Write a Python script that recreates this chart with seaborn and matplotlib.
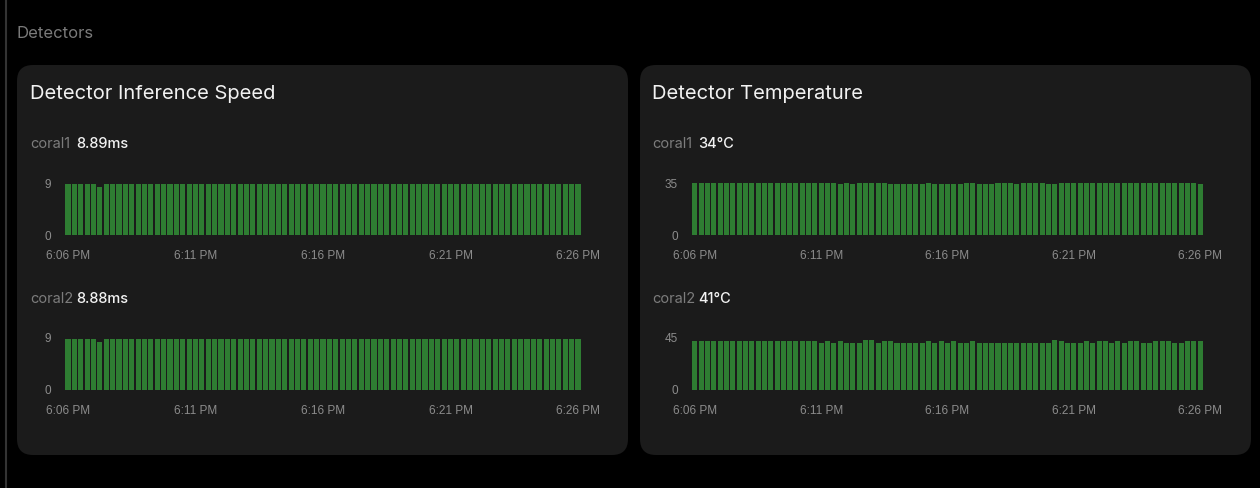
import matplotlib
matplotlib.use("Agg")
import matplotlib.pyplot as plt
from matplotlib.patches import FancyBboxPatch
from matplotlib.transforms import IdentityTransform
from matplotlib.lines import Line2D
import seaborn as sns
import pandas as pd

# ---------------- data ----------------
time_labels = ["6:06 PM", "6:11 PM", "6:16 PM", "6:21 PM", "6:26 PM"]
tick_positions = [0, 20, 40, 60, 80]

speed_coral1 = [
    8.86, 8.86, 8.86, 8.86, 8.86, 8.30, 8.90, 8.90, 8.90, 8.90,
    8.90, 8.90, 8.90, 8.90, 8.90, 8.90, 8.90, 8.90, 8.90, 8.90,
    8.90, 8.90, 8.90, 8.90, 8.90, 8.90, 8.90, 8.90, 8.90, 8.90,
    8.90, 8.90, 8.90, 8.90, 8.90, 8.90, 8.90, 8.90, 8.90, 8.90,
    8.90, 8.90, 8.90, 8.90, 8.90, 8.90, 8.90, 8.90, 8.90, 8.90,
    8.90, 8.90, 8.90, 8.90, 8.90, 8.90, 8.90, 8.90, 8.90, 8.90,
    8.90, 8.90, 8.90, 8.90, 8.90, 8.90, 8.90, 8.90, 8.90, 8.90,
    8.90, 8.90, 8.90, 8.90, 8.90, 8.90, 8.90, 8.90, 8.90, 8.90,
    8.89,
]
speed_coral2 = [
    8.88, 8.88, 8.88, 8.88, 8.88, 8.25, 8.88, 8.88, 8.88, 8.88,
    8.88, 8.88, 8.88, 8.88, 8.88, 8.88, 8.88, 8.88, 8.88, 8.88,
    8.88, 8.88, 8.88, 8.88, 8.88, 8.88, 8.88, 8.88, 8.88, 8.88,
    8.88, 8.88, 8.88, 8.88, 8.88, 8.88, 8.88, 8.88, 8.88, 8.88,
    8.88, 8.88, 8.88, 8.88, 8.88, 8.88, 8.88, 8.88, 8.88, 8.88,
    8.88, 8.88, 8.88, 8.88, 8.88, 8.88, 8.88, 8.88, 8.88, 8.88,
    8.88, 8.88, 8.88, 8.88, 8.88, 8.88, 8.88, 8.88, 8.88, 8.88,
    8.88, 8.88, 8.88, 8.88, 8.88, 8.88, 8.88, 8.88, 8.88, 8.88,
    8.88,
]
temp_coral1 = [
    35, 35, 35, 35, 35, 35, 35, 35, 35, 35,
    35, 35, 35, 35, 35, 35, 35, 35, 35, 35,
    35, 35, 35, 34, 35, 34, 35, 35, 35, 35,
    35, 34, 34, 34, 34, 34, 34, 35, 34, 34,
    34, 34, 34, 35, 35, 34, 34, 34, 35, 35,
    35, 34, 35, 35, 35, 35, 34, 34, 35, 35,
    35, 35, 35, 35, 35, 35, 35, 35, 35, 35,
    35, 35, 35, 35, 35, 35, 35, 35, 35, 35,
    34,
]
temp_coral2 = [
    42, 42, 42, 42, 42, 42, 42, 42, 42, 42,
    42, 42, 42, 42, 42, 42, 42, 42, 42, 42,
    41, 42, 41, 42, 41, 41, 41, 43, 43, 41,
    42, 42, 41, 41, 41, 41, 41, 42, 41, 42,
    41, 42, 41, 41, 42, 41, 41, 41, 41, 41,
    41, 41, 41, 41, 41, 41, 41, 43, 42, 41,
    41, 41, 42, 41, 42, 42, 41, 42, 41, 42,
    42, 41, 41, 42, 42, 42, 41, 41, 42, 42,
    42,
]

panels = [
    (64.8, 581.2, 30, "Detector Inference Speed",
     [("coral1", "8.89ms", speed_coral1, 9), ("coral2", "8.88ms", speed_coral2, 9)]),
    (691.8, 1203.2, 652, "Detector Temperature",
     [("coral1", "34°C", temp_coral1, 35), ("coral2", "41°C", temp_coral2, 45)]),
]

# ---------------- style ----------------
W, H = 1260, 488
sns.set_theme(style="dark")
plt.rcParams["font.family"] = ["Inter", "DejaVu Sans"]

BG = "#000000"
CARD = "#1b1b1b"
BAR = "#2e7d32"
TICK = "#8c8c8c"
LABEL_GRAY = "#7c7c7c"
WHITE = "#f2f2f2"

fig = plt.figure(figsize=(W / 100, H / 100), dpi=100, facecolor=BG)

fig.add_artist(Line2D([6, 6], [0, H], transform=IdentityTransform(), color="#333333", lw=1.5, zorder=-2))

for x0 in (17, 640):
    card = FancyBboxPatch((x0, H - 455), 611, 390,
                          boxstyle="round,pad=0,rounding_size=16",
                          transform=IdentityTransform(), facecolor=CARD,
                          edgecolor="none", lw=0, zorder=-1)
    fig.add_artist(card)

def fx(px):
    return px / W

def fy(py):
    return 1 - py / H

fig.text(fx(17), fy(34), "Detectors", color="#7a7a7a", fontsize=12, va="center", ha="left")

rows_y = [(183, 235, 143), (338, 390, 298)]

for (lpx, rpx, text_x, title, series) in panels:
    fig.text(fx(text_x), fy(94), title, color=WHITE, fontsize=14.5, va="center", ha="left")
    for (name, valtxt, data, ymax), (ty, by, ly) in zip(series, rows_y):
        fig.text(fx(text_x), fy(ly + 1), name, color=LABEL_GRAY, fontsize=10.5, va="center", ha="left")
        fig.text(fx(text_x + 46), fy(ly + 1), valtxt, color=WHITE, fontsize=10.5,
                 fontweight="medium", va="center", ha="left")
        ax = fig.add_axes([fx(lpx), 1 - by / H, (rpx - lpx) / W, (by - ty) / H])
        ax.set_facecolor("none")
        df = pd.DataFrame({"i": list(range(len(data))), "v": data})
        sns.barplot(data=df, x="i", y="v", ax=ax, color=BAR, saturation=1,
                    width=0.8, linewidth=0, errorbar=None)
        for p in ax.patches:
            p.set_antialiased(False)
        ax.set_xlim(-0.5, len(data) - 0.5)
        ax.set_ylim(0, ymax)
        ax.set_yticks([0, ymax])
        ax.set_yticklabels([str(0), str(ymax)])
        ax.set_xticks(tick_positions)
        ax.set_xticklabels(time_labels)
        ax.set_xlabel("")
        ax.set_ylabel("")
        ax.grid(False)
        for s in ax.spines.values():
            s.set_visible(False)
        ax.tick_params(axis="both", length=0, colors=TICK, labelsize=8.5)
        ax.tick_params(axis="x", pad=10.5)
        ax.tick_params(axis="y", pad=10)
        for lab in ax.get_xticklabels() + ax.get_yticklabels():
            lab.set_family(["Liberation Sans", "DejaVu Sans"])

fig.savefig("out.png", dpi=100, facecolor=BG)
